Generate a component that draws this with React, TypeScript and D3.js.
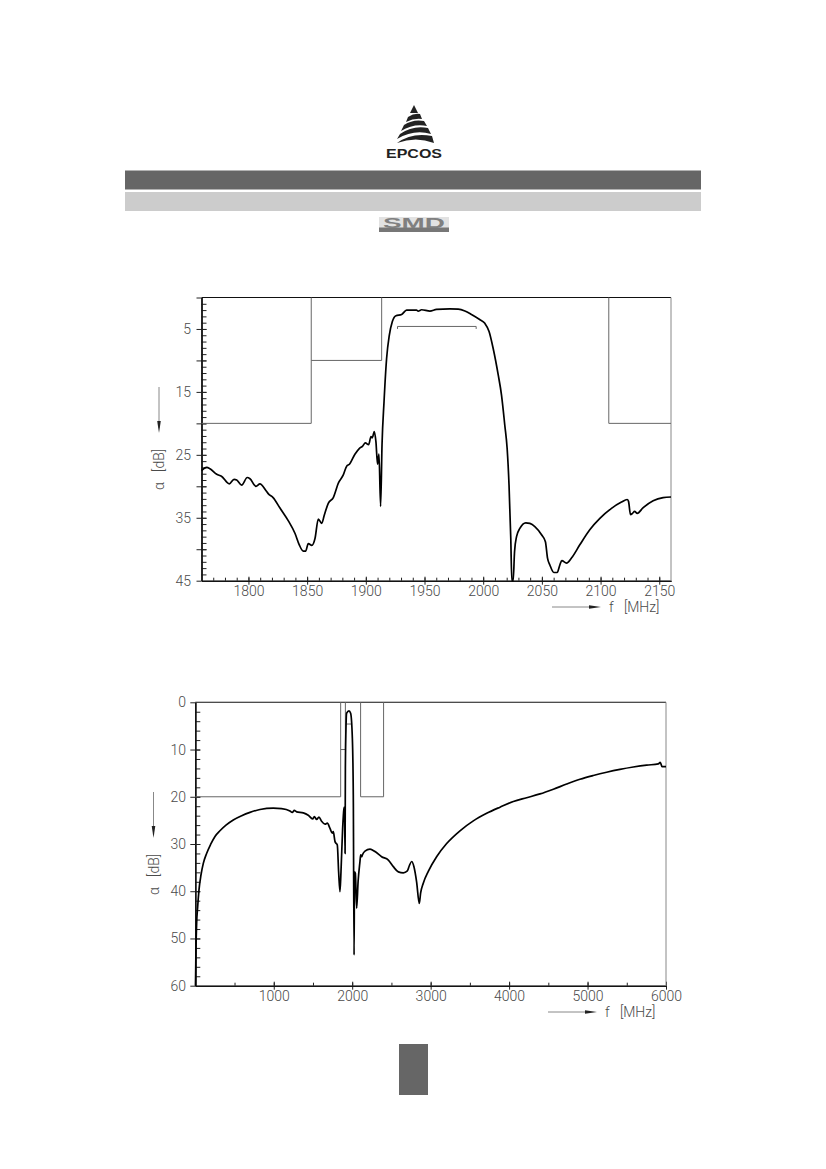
import React, { useEffect, useRef } from "react";
import * as d3 from "d3";

// passband detail
const passFreq = [1760,1764.4,1767.2,1773,1777,1783.7,1787.7,1790,1794.2,1799,1801.3,1806.4,1809.8,1815,1817,1821,1827,1834,1839.7,1843.3,1846.7,1848.7,1851,1854,1856.7,1859.5,1862.4,1864.6,1868,1872.3,1876.6,1880.8,1883.7,1886,1890.7,1894.4,1897.3,1899.6,1902.4,1904.4,1905.5,1907.2,1908.6,1910,1911.2,1912.6,1913.8,1915.5,1917.7,1920,1922.6,1925.7,1930.5,1934.7,1943.2,1944.6,1947.5,1954.6,1960.2,1971.6,1978.7,1984.4,1990,1997,2001.4,2005,2008.5,2012.8,2015.6,2018.4,2020.4,2022,2023.5,2024.4,2025.5,2026.7,2028.4,2031.2,2036.3,2039.7,2044,2049.7,2053,2054.8,2056.8,2060.2,2063,2065.3,2067,2071,2075.2,2082.3,2090.8,2099.4,2109.3,2117.8,2122.6,2123.8,2125.5,2127.2,2129,2131.2,2136.3,2144.8,2153.3,2160];
const passAtten = [27.5,27,27.2,28.1,28.4,29.6,28.9,29,29.8,28.6,28.8,30,29.6,30.7,31.2,31.8,33.5,35.5,37.5,39.3,40.3,40.3,39.1,39.4,38.3,35.2,35.9,34.6,32.7,31.8,29.5,28.2,26.8,26.5,24.9,24,23.6,23.1,23.4,22.1,22.3,21.3,22.9,26.5,24.9,33.2,23.4,16.6,9.7,6,3.8,2.9,2.7,2,2,2.15,1.95,2.15,1.9,1.8,1.85,2.15,2.7,3.5,4.1,5.4,8.1,12.3,15.5,20.3,24,29.8,38.3,45,45,40.4,38,36.7,35.8,35.9,36.4,37.7,38.8,41.4,42.5,43.7,43.7,42.5,41.8,42.2,41.4,39.3,36.9,35.1,33.5,32.5,32.1,32.4,34.5,34.3,34,34.3,33.4,32.3,31.8,31.7];

// wideband sweep
const wideFreq = [2,4,8.5,17,30,47,72,102,144,195,251,314,391,484,591,697,824,994,1100,1207,1236,1262,1292,1377,1440,1496,1517,1547,1576,1610,1653,1683,1717,1746,1759,1781,1797,1810,1827,1844,1857,1878,1895,1902,1909,1913,1920,1929,1959,1980,2002,2014,2024,2029,2040,2057,2075,2099,2108,2121,2130,2163,2227,2291,2375,2461,2524,2588,2652,2703,2728,2758,2787,2821,2855,2872,2906,2970,3076,3204,3374,3544,3714,3884,4054,4224,4394,4564,4734,4903,5073,5243,5413,5583,5753,5902,5927,5949,6000];
const wideAtten = [60,58,52.4,46.8,43.3,39.7,36.6,34.1,32,30.1,28.4,27.2,26,24.9,24,23.3,22.7,22.4,22.5,23,23.3,22.9,23.2,23.4,23.9,24.7,24.2,24.8,24.3,25.2,25.8,25.6,26.7,27.7,27.4,29.5,29.9,30.2,35.9,40.1,35.9,26.7,22.5,22.2,32,14,6,2.3,1.8,2.3,7.6,19.6,53.5,35.9,36.2,43.6,38,33.7,32.3,32.7,32.3,31.5,31.1,31.6,32.7,33.4,34.8,35.9,36.1,35.7,34.6,33.7,34.8,38,42.6,40.4,38.3,35.8,32.7,29.9,27.2,25.1,23.5,22.2,21,20.2,19.4,18.4,17.3,16.3,15.5,14.8,14.2,13.7,13.3,13.05,12.7,13.6,13.6];

// limit masks: [frequency, attenuation] corners
const limitLeft: [number, number][] = [[1760,20],[1853.5,20],[1853.5,0]];
const limitMid: [number, number][] = [[1853.5,10],[1913.5,10],[1913.5,0]];
const limitRight: [number, number][] = [[2107,0],[2107,20],[2160,20]];
const wideLimitLeft: [number, number][] = [[0,20],[1853,20],[1853,0]];
const wideLimitMid: [number, number][] = [[1853,10],[1913,10],[1913,0]];
const wideLimitRight: [number, number][] = [[2107,0],[2107,20],[2400,20],[2400,0]];
const passBracket: [number, number][] = [[1927,5],[1927,4.6],[1994,4.6],[1994,5]];
const wideBracket: [number, number][] = [[1927,4.6],[1994,4.6]];

const passXMajor = [1800,1850,1900,1950,2000,2050,2100,2150];
const passXMinor = d3.range(1770, 2160, 10);
const passYMajor = [0,5,10,15,20,25,30,35,40,45];
const passYMinor = d3.range(1, 45, 1);
const passYLabels = [5,15,25,35,45];

const wideXMajor = [1000,2000,3000,4000,5000,6000];
const wideXMinor = d3.range(500, 6000, 500);
const wideYMajor = [0,10,20,30,40,50,60];
const wideYMinor = d3.range(2, 60, 2);

const FONT = "Roboto, 'Liberation Sans', Arial, sans-serif";
const TEXT = "#4a4a4a";

interface PanelProps {
  left: number; right: number; top: number; bottom: number;
  xDomain: [number, number]; yMax: number;
  xMajor: number[]; xMinor: number[];
  yMajor: number[]; yMinor: number[]; yLabels: number[];
  freq: number[]; atten: number[];
  limits: [number, number][][];
  labelGap: number;
  yTitleX: number; yTitleY: number;
  xTitleX: number; xTitleY: number;
}

const Panel: React.FC<PanelProps> = (p) => {
  const ref = useRef<SVGGElement | null>(null);

  useEffect(() => {
    if (!ref.current) return;
    const g = d3.select(ref.current);
    g.selectAll("*").remove();

    const x = d3.scaleLinear().domain(p.xDomain).range([p.left, p.right]);
    const y = d3.scaleLinear().domain([0, p.yMax]).range([p.top, p.bottom]);

    const styleAxis = (sel: any) => {
      sel.selectAll("line").attr("stroke", "#222").attr("stroke-width", 1);
      sel.selectAll("path").attr("stroke", "#111").attr("stroke-width", 1.1);
      sel.selectAll("text")
        .attr("fill", TEXT)
        .style("font-family", FONT)
        .style("font-weight", 300)
        .style("font-size", "14px");
    };

    // minor ticks point into the plot
    g.append("g")
      .attr("transform", `translate(${p.left},0)`)
      .call(d3.axisLeft(y).tickValues(p.yMinor).tickSize(-5).tickSizeOuter(0).tickFormat(() => ""))
      .call(styleAxis);
    g.append("g")
      .attr("transform", `translate(0,${p.bottom})`)
      .call(d3.axisBottom(x).tickValues(p.xMinor).tickSize(-3).tickSizeOuter(0).tickFormat(() => ""))
      .call(styleAxis);

    // major ticks cross the axis and carry the labels
    g.append("g")
      .attr("transform", `translate(${p.left},0)`)
      .call(
        d3.axisLeft(y).tickValues(p.yMajor).tickSizeInner(5).tickSizeOuter(0)
          .tickPadding(p.labelGap - 5)
          .tickFormat((d) => (p.yLabels.includes(+d) ? String(d) : ""))
      )
      .call(styleAxis);
    g.append("g")
      .attr("transform", `translate(${p.left},0)`)
      .call(d3.axisLeft(y).tickValues(p.yMajor.slice(1, -1)).tickSize(-5).tickSizeOuter(0).tickFormat(() => ""))
      .call(styleAxis);
    g.append("g")
      .attr("transform", `translate(0,${p.bottom})`)
      .call(d3.axisBottom(x).tickValues(p.xMajor).tickSizeInner(4).tickSizeOuter(0).tickPadding(1.2).tickFormat(d3.format("d")))
      .call(styleAxis);
    g.append("g")
      .attr("transform", `translate(0,${p.bottom})`)
      .call(d3.axisBottom(x).tickValues(p.xMajor).tickSize(-4).tickSizeOuter(0).tickFormat(() => ""))
      .call(styleAxis);

    // top and right edges
    g.append("line").attr("x1", p.left).attr("x2", p.right).attr("y1", p.top).attr("y2", p.top)
      .attr("stroke", "#111").attr("stroke-width", 1.1);
    g.append("line").attr("x1", p.right).attr("x2", p.right).attr("y1", p.top).attr("y2", p.bottom)
      .attr("stroke", "#888").attr("stroke-width", 1);

    const limitLine = d3.line<[number, number]>().x((d) => x(d[0])).y((d) => y(d[1]));
    p.limits.forEach((l) => {
      g.append("path").attr("d", limitLine(l)).attr("fill", "none")
        .attr("stroke", "#666").attr("stroke-width", 1);
    });

    const curve = d3.line<number>()
      .x((_, i) => x(p.freq[i]))
      .y((d) => y(d))
      .curve(d3.curveMonotoneX);
    g.append("path").attr("d", curve(p.atten)).attr("fill", "none")
      .attr("stroke", "#000").attr("stroke-width", 1.7).attr("stroke-linejoin", "round");

    // y title, reads bottom to top, with its arrow pointing down
    const yt = g.append("g").attr("transform", `translate(${p.yTitleX},${p.yTitleY})`);
    yt.append("line").attr("x1", 0).attr("x2", 0).attr("y1", -103).attr("y2", -62)
      .attr("stroke", "#888").attr("stroke-width", 1);
    yt.append("path").attr("d", "M-1.8,-69 L1.8,-69 L0,-57 Z").attr("fill", "#222");
    yt.append("text").attr("transform", "rotate(-90)").attr("x", 0).attr("y", 5)
      .attr("text-anchor", "start").attr("fill", TEXT)
      .style("font-family", FONT).style("font-weight", 300).style("font-size", "14px").style("white-space", "pre")
      .text("α   [dB]");

    // x title with its arrow pointing right
    const xt = g.append("g").attr("transform", `translate(${p.xTitleX},${p.xTitleY})`);
    xt.append("line").attr("x1", -57).attr("x2", -15).attr("y1", -5).attr("y2", -5)
      .attr("stroke", "#888").attr("stroke-width", 1);
    xt.append("path").attr("d", "M-20,-6.8 L-20,-3.2 L-8,-5 Z").attr("fill", "#222");
    xt.append("text").attr("x", 0).attr("y", 0).attr("fill", TEXT)
      .style("font-family", FONT).style("font-weight", 300).style("font-size", "14px").style("white-space", "pre")
      .text("f   [MHz]");
  }, [p]);

  return <g ref={ref} />;
};

const Logo: React.FC = () => (
  <g>
    <g fill="#222">
      <path d="M414 105 L418 113 L410 113 Z" />
      <path d="M408 117 Q414 113 420 114 L422 119 Q414 118 406 122 Z" />
      <path d="M404 125 Q413 119 424 121 L427 126 Q414 123 401 131 Z" />
      <path d="M400 134 Q413 125 428 128 L431 134 Q414 129 397 139 Z" />
      <path d="M397 143 Q412 132 432 136 L434 143 Q416 136 397 143 Z" />
    </g>
    <text x={414} y={158} textAnchor="middle" fill="#222"
      textLength={56} lengthAdjust="spacingAndGlyphs"
      style={{ fontFamily: "'Liberation Sans', Arial, sans-serif", fontSize: 12, fontWeight: 700 }}>
      EPCOS
    </text>
  </g>
);

const SmdBadge: React.FC = () => (
  <g>
    <rect x={379} y={217} width={70} height={15} fill="#e2e2e2" />
    <rect x={379} y={227.5} width={70} height={4.5} fill="#777" />
    <text x={414} y={227.5} textAnchor="middle" fill="#808080"
      textLength={62} lengthAdjust="spacingAndGlyphs"
      style={{ fontFamily: "'Liberation Sans', Arial, sans-serif", fontSize: 14, fontWeight: 700 }}>
      SMD
    </text>
  </g>
);

export default function App() {
  return (
    <svg width={826} height={1169} style={{ position: "absolute", left: 0, top: 0, background: "#fff" }}>
      <Logo />
      <rect x={125} y={170.5} width={576} height={19} fill="#666" />
      <rect x={125} y={192} width={576} height={19} fill="#ccc" />
      <SmdBadge />

      <Panel left={201.5} right={671} top={297.5} bottom={580.7}
        xDomain={[1760, 2160]} yMax={45}
        xMajor={passXMajor} xMinor={passXMinor}
        yMajor={passYMajor} yMinor={passYMinor} yLabels={passYLabels}
        freq={passFreq} atten={passAtten}
        limits={[limitLeft, limitMid, limitRight, passBracket]}
        labelGap={10.5} yTitleX={159} yTitleY={490}
        xTitleX={609} xTitleY={612} />

      <Panel left={195.3} right={666} top={702.3} bottom={985.7}
        xDomain={[0, 6000]} yMax={60}
        xMajor={wideXMajor} xMinor={wideXMinor}
        yMajor={wideYMajor} yMinor={wideYMinor} yLabels={wideYMajor}
        freq={wideFreq} atten={wideAtten}
        limits={[wideLimitLeft, wideLimitMid, wideLimitRight, wideBracket]}
        labelGap={9.3} yTitleX={153.5} yTitleY={895}
        xTitleX={605} xTitleY={1017} />

      <rect x={399} y={1044} width={29} height={51} fill="#666" />
    </svg>
  );
}
